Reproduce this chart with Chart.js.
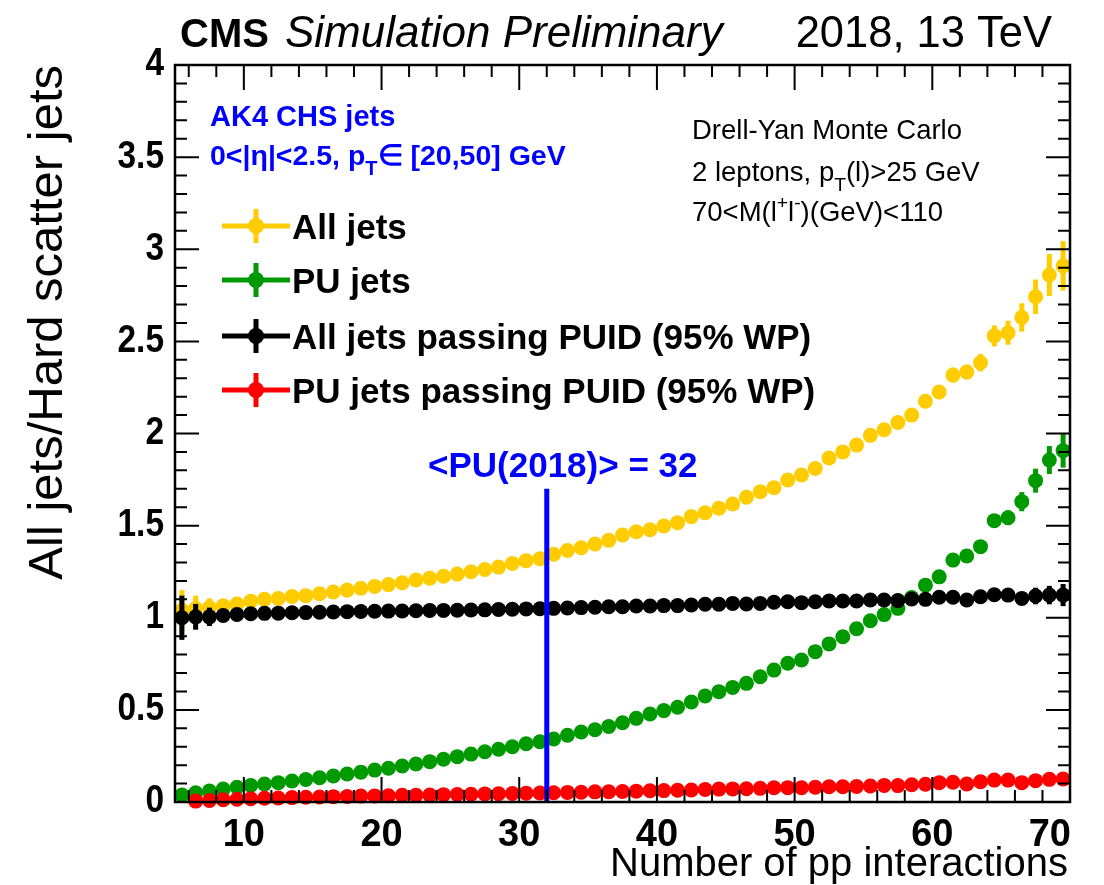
<!DOCTYPE html>
<html>
<head>
<meta charset="utf-8">
<script src="https://cdn.jsdelivr.net/npm/chart.js@4.4.1/dist/chart.umd.min.js"></script>
<style>
  html, body { margin: 0; padding: 0; background: #fff; }
  #wrap { width: 1104px; height: 885px; }
</style>
</head>
<body>
<div id="wrap"><canvas id="chart" width="1104" height="885"></canvas></div>
<script>
// bin centres of the pile-up distribution (number of pp interactions)
const nPU = [
  5.5, 6.5, 7.5, 8.5, 9.5, 10.5, 11.5, 12.5, 13.5, 14.5,
  15.5, 16.5, 17.5, 18.5, 19.5, 20.5, 21.5, 22.5, 23.5, 24.5,
  25.5, 26.5, 27.5, 28.5, 29.5, 30.5, 31.5, 32.5, 33.5, 34.5,
  35.5, 36.5, 37.5, 38.5, 39.5, 40.5, 41.5, 42.5, 43.5, 44.5,
  45.5, 46.5, 47.5, 48.5, 49.5, 50.5, 51.5, 52.5, 53.5, 54.5,
  55.5, 56.5, 57.5, 58.5, 59.5, 60.5, 61.5, 62.5, 63.5, 64.5,
  65.5, 66.5, 67.5, 68.5, 69.5
];

// ratios to hard scatter jets
const allJets = [
  1.04, 1.05, 1.055, 1.065, 1.075, 1.09, 1.10, 1.105, 1.115, 1.12,
  1.13, 1.14, 1.15, 1.16, 1.17, 1.18, 1.19, 1.205, 1.215, 1.225,
  1.237, 1.25, 1.262, 1.275, 1.295, 1.31, 1.32, 1.345, 1.365, 1.38,
  1.40, 1.42, 1.449, 1.467, 1.478, 1.498, 1.516, 1.549, 1.57, 1.594,
  1.617, 1.654, 1.684, 1.706, 1.748, 1.775, 1.81, 1.867, 1.90, 1.937,
  1.99, 2.02, 2.06, 2.10, 2.175, 2.225, 2.317, 2.334, 2.384, 2.53,
  2.547, 2.63, 2.742, 2.86, 2.91
];
const allJetsErr = [
  0.11, 0.07, 0.05, 0.035, 0.03, 0.025, 0.02, 0.02, 0.02, 0.02,
  0.02, 0.02, 0.02, 0.02, 0.02, 0.02, 0.02, 0.02, 0.02, 0.02,
  0.02, 0.02, 0.02, 0.02, 0.02, 0.02, 0.02, 0.02, 0.02, 0.02,
  0.02, 0.02, 0.02, 0.02, 0.02, 0.02, 0.02, 0.02, 0.02, 0.02,
  0.02, 0.02, 0.02, 0.02, 0.02, 0.025, 0.025, 0.025, 0.025, 0.025,
  0.025, 0.03, 0.03, 0.03, 0.035, 0.035, 0.04, 0.04, 0.047, 0.057,
  0.065, 0.077, 0.094, 0.114, 0.134
];

const puJets = [
  0.038, 0.05, 0.06, 0.07, 0.08, 0.09, 0.098, 0.105, 0.114, 0.122,
  0.132, 0.141, 0.152, 0.162, 0.173, 0.183, 0.195, 0.206, 0.219, 0.232,
  0.246, 0.26, 0.273, 0.286, 0.30, 0.316, 0.327, 0.342, 0.362, 0.38,
  0.392, 0.41, 0.43, 0.454, 0.478, 0.496, 0.514, 0.543, 0.575, 0.599,
  0.622, 0.644, 0.68, 0.716, 0.753, 0.771, 0.816, 0.858, 0.897, 0.94,
  0.984, 1.017, 1.051, 1.11, 1.177, 1.222, 1.313, 1.335, 1.386, 1.527,
  1.543, 1.63, 1.744, 1.856, 1.907
];
const puJetsErr = [
  0.02, 0.015, 0.01, 0.01, 0.01, 0.01, 0.01, 0.01, 0.01, 0.01,
  0.01, 0.01, 0.01, 0.01, 0.01, 0.01, 0.01, 0.01, 0.01, 0.01,
  0.01, 0.01, 0.01, 0.01, 0.01, 0.01, 0.01, 0.01, 0.01, 0.01,
  0.01, 0.01, 0.01, 0.01, 0.01, 0.01, 0.01, 0.01, 0.01, 0.01,
  0.015, 0.015, 0.015, 0.015, 0.015, 0.02, 0.02, 0.02, 0.02, 0.02,
  0.02, 0.02, 0.025, 0.025, 0.025, 0.03, 0.03, 0.03, 0.032, 0.035,
  0.04, 0.052, 0.065, 0.076, 0.092
];

const allJetsPuid = [
  1.0, 1.005, 1.005, 1.012, 1.018, 1.022, 1.024, 1.025, 1.027, 1.028,
  1.03, 1.031, 1.033, 1.034, 1.035, 1.036, 1.037, 1.038, 1.039, 1.04,
  1.041, 1.042, 1.043, 1.045, 1.046, 1.048, 1.049, 1.051, 1.053, 1.055,
  1.057, 1.06, 1.06, 1.064, 1.064, 1.066, 1.066, 1.069, 1.073, 1.073,
  1.078, 1.075, 1.078, 1.084, 1.087, 1.082, 1.087, 1.091, 1.091, 1.091,
  1.096, 1.096, 1.093, 1.102, 1.10, 1.111, 1.111, 1.096, 1.114, 1.125,
  1.123, 1.105, 1.118, 1.123, 1.123
];
const allJetsPuidErr = [
  0.12, 0.07, 0.05, 0.03, 0.025, 0.02, 0.015, 0.015, 0.015, 0.015,
  0.015, 0.015, 0.015, 0.015, 0.015, 0.015, 0.015, 0.015, 0.015, 0.015,
  0.015, 0.015, 0.015, 0.015, 0.015, 0.015, 0.015, 0.015, 0.015, 0.015,
  0.015, 0.015, 0.015, 0.015, 0.015, 0.015, 0.015, 0.015, 0.015, 0.015,
  0.015, 0.015, 0.015, 0.015, 0.015, 0.015, 0.02, 0.02, 0.02, 0.02,
  0.02, 0.02, 0.02, 0.02, 0.02, 0.025, 0.025, 0.025, 0.025, 0.03,
  0.03, 0.035, 0.045, 0.05, 0.06
];

const puJetsPuid = [
  null, 0.005, 0.008, 0.012, 0.015, 0.018, 0.02, 0.022, 0.024, 0.026,
  0.027, 0.029, 0.03, 0.032, 0.033, 0.034, 0.036, 0.037, 0.038, 0.04,
  0.041, 0.042, 0.044, 0.045, 0.046, 0.048, 0.049, 0.05, 0.052, 0.053,
  0.055, 0.056, 0.057, 0.059, 0.061, 0.062, 0.064, 0.065, 0.068, 0.07,
  0.071, 0.072, 0.074, 0.077, 0.078, 0.077, 0.08, 0.083, 0.083, 0.084,
  0.087, 0.09, 0.089, 0.094, 0.096, 0.105, 0.107, 0.098, 0.11, 0.119,
  0.119, 0.105, 0.116, 0.123, 0.125
];
const puJetsPuidErr = [
  0, 0.01, 0.008, 0.006, 0.005, 0.005, 0.005, 0.005, 0.005, 0.005,
  0.005, 0.005, 0.005, 0.005, 0.005, 0.005, 0.005, 0.005, 0.005, 0.005,
  0.005, 0.005, 0.005, 0.005, 0.005, 0.005, 0.005, 0.005, 0.005, 0.005,
  0.005, 0.005, 0.005, 0.005, 0.005, 0.005, 0.005, 0.005, 0.005, 0.005,
  0.005, 0.005, 0.005, 0.005, 0.005, 0.005, 0.005, 0.005, 0.005, 0.005,
  0.006, 0.006, 0.006, 0.006, 0.007, 0.007, 0.008, 0.008, 0.009, 0.01,
  0.011, 0.012, 0.014, 0.016, 0.018
];

const xTicks = [10, 20, 30, 40, 50, 60, 70];
const yTicks = [0, 0.5, 1, 1.5, 2, 2.5, 3, 3.5, 4];
const meanPU = 32;
const meanPUTop = 1.7;

const FONT = '"Liberation Sans", Arial, Helvetica, sans-serif';
const BLUE = "#0000ff";

const series = [
  { label: "All jets", y: allJets, err: allJetsErr, color: "#ffcc00", order: 3 },
  { label: "PU jets", y: puJets, err: puJetsErr, color: "#009900", order: 2 },
  { label: "All jets passing PUID (95% WP)", y: allJetsPuid, err: allJetsPuidErr, color: "#000000", order: 1 },
  { label: "PU jets passing PUID (95% WP)", y: puJetsPuid, err: puJetsPuidErr, color: "#ff0000", order: 0 },
];

// draw a line of text made of runs, some of them shifted as sub/superscripts
function drawRuns(ctx, x, y, runs, size, weight, color) {
  ctx.fillStyle = color;
  ctx.textAlign = "left";
  ctx.textBaseline = "alphabetic";
  let cx = x;
  runs.forEach((r) => {
    const s = size * (r.scale || 1);
    ctx.font = `${weight} ${s}px ${FONT}`;
    ctx.fillText(r.t, cx, y + (r.dy || 0) * size);
    cx += ctx.measureText(r.t).width;
  });
}

// vertical error bars, drawn just before each dataset's markers
const errorBars = {
  id: "errorBars",
  beforeDatasetDraw(chart, args) {
    const s = series[args.index];
    const yScale = chart.scales.y;
    const ctx = chart.ctx;
    ctx.save();
    ctx.strokeStyle = s.color;
    ctx.lineWidth = 5;
    args.meta.data.forEach((pt, i) => {
      const v = s.y[i];
      if (v === null || !s.err[i]) return;
      ctx.beginPath();
      ctx.moveTo(pt.x, yScale.getPixelForValue(v - s.err[i]));
      ctx.lineTo(pt.x, yScale.getPixelForValue(v + s.err[i]));
      ctx.stroke();
    });
    ctx.restore();
  },
};

// frame, ticks, mean pile-up line, legend and all labels
const decorations = {
  id: "decorations",
  afterDatasetsDraw(chart) {
    const { ctx, scales } = chart;
    const x = scales.x, y = scales.y;

    // <PU> line
    ctx.save();
    ctx.strokeStyle = BLUE;
    ctx.lineWidth = 5;
    ctx.beginPath();
    ctx.moveTo(x.getPixelForValue(meanPU), y.getPixelForValue(0));
    ctx.lineTo(x.getPixelForValue(meanPU), y.getPixelForValue(meanPUTop));
    ctx.stroke();
    ctx.restore();
  },
  afterDraw(chart) {
    const { ctx, chartArea: a, scales } = chart;
    const x = scales.x, y = scales.y;
    ctx.save();

    // frame
    ctx.strokeStyle = "#000";
    ctx.lineWidth = 2.5;
    ctx.strokeRect(a.left, a.top, a.right - a.left, a.bottom - a.top);

    // ticks on all four sides
    ctx.lineWidth = 2;
    ctx.beginPath();
    for (let v = 6; v <= 70; v += 2) {
      const px = x.getPixelForValue(v);
      const len = v % 10 === 0 ? 25 : 12;
      ctx.moveTo(px, a.bottom); ctx.lineTo(px, a.bottom - len);
      ctx.moveTo(px, a.top); ctx.lineTo(px, a.top + len);
    }
    for (let k = 0; k <= 40; k++) {
      const py = y.getPixelForValue(k / 10);
      const len = k % 5 === 0 ? 24 : 12;
      ctx.moveTo(a.left, py); ctx.lineTo(a.left + len, py);
      ctx.moveTo(a.right, py); ctx.lineTo(a.right - len, py);
    }
    ctx.stroke();

    // tick labels
    ctx.fillStyle = "#000";
    ctx.font = `bold 38px ${FONT}`;
    ctx.textBaseline = "alphabetic";
    xTicks.forEach((v, i) => {
      const last = i === xTicks.length - 1;
      ctx.textAlign = last ? "right" : "center";
      ctx.fillText(String(v), x.getPixelForValue(v) + (last ? 1 : 0), a.bottom + 44);
    });
    ctx.textAlign = "right";
    ctx.textBaseline = "middle";
    yTicks.forEach((v) => {
      ctx.save();
      ctx.translate(164, y.getPixelForValue(v));
      ctx.scale(0.88, 1);
      ctx.fillText(String(v), 0, 0);
      ctx.restore();
    });

    // header
    ctx.textBaseline = "alphabetic";
    ctx.textAlign = "left";
    ctx.font = `bold 40px ${FONT}`;
    ctx.fillText("CMS", 180, 47);
    ctx.font = `italic 44px ${FONT}`;
    ctx.fillText("Simulation Preliminary", 285, 47);
    ctx.textAlign = "right";
    ctx.font = `43.5px ${FONT}`;
    ctx.fillText("2018, 13 TeV", 1052, 47);

    // axis titles
    ctx.font = `40px ${FONT}`;
    ctx.fillText("Number of pp interactions", 1068, 876);
    ctx.save();
    ctx.translate(62, a.top);
    ctx.rotate(-Math.PI / 2);
    ctx.font = `49px ${FONT}`;
    ctx.textAlign = "right";
    ctx.fillText("All jets/Hard scatter jets", 0, 0);
    ctx.restore();

    // selection text
    drawRuns(ctx, 210, 126, [{ t: "AK4 CHS jets" }], 29, "bold", BLUE);
    drawRuns(ctx, 210, 165, [
      { t: "0<|η|<2.5, p" },
      { t: "T", scale: 0.7, dy: 0.35 },
      { t: "∈ [20,50] GeV" },
    ], 28.5, "bold", BLUE);

    drawRuns(ctx, 692, 139, [{ t: "Drell-Yan Monte Carlo" }], 27.5, "normal", "#000");
    drawRuns(ctx, 692, 181, [
      { t: "2 leptons, p" },
      { t: "T", scale: 0.7, dy: 0.35 },
      { t: "(l)>25 GeV" },
    ], 27.5, "normal", "#000");
    drawRuns(ctx, 692, 221, [
      { t: "70<M(l" },
      { t: "+", scale: 0.7, dy: -0.45 },
      { t: "l" },
      { t: "-", scale: 0.7, dy: -0.45 },
      { t: ")(GeV)<110" },
    ], 27.5, "normal", "#000");

    drawRuns(ctx, 428, 477, [{ t: "<PU(2018)> = 32" }], 35, "bold", BLUE);

    // legend
    const legendY = [226, 280, 336, 390];
    series.forEach((s, i) => {
      const ly = legendY[i];
      ctx.strokeStyle = s.color;
      ctx.fillStyle = s.color;
      ctx.lineWidth = 5;
      ctx.beginPath();
      ctx.moveTo(222, ly); ctx.lineTo(290, ly);
      ctx.moveTo(256, ly - 17); ctx.lineTo(256, ly + 17);
      ctx.stroke();
      ctx.beginPath();
      ctx.arc(256, ly, 8, 0, Math.PI * 2);
      ctx.fill();
      drawRuns(ctx, 292, ly + 12.5, [{ t: s.label }], 35, "bold", "#000");
    });

    ctx.restore();
  },
};

new Chart(document.getElementById("chart").getContext("2d"), {
  type: "scatter",
  data: {
    datasets: series.map((s) => ({
      label: s.label,
      data: nPU.map((v, i) => ({ x: v, y: s.y[i] })),
      backgroundColor: s.color,
      borderColor: s.color,
      borderWidth: 0,
      pointRadius: 7.5,
      pointHoverRadius: 7.5,
      showLine: false,
      clip: false,
      order: s.order,
    })),
  },
  options: {
    responsive: false,
    devicePixelRatio: 1,
    animation: false,
    events: [],
    layout: { padding: { top: 65, right: 34, left: 0, bottom: 0 } },
    plugins: { legend: { display: false }, tooltip: { enabled: false } },
    scales: {
      x: {
        type: "linear",
        min: 5,
        max: 70,
        grid: { display: false, drawTicks: false },
        border: { display: false },
        afterFit: (s) => { s.height = 83; },
        ticks: { display: false },
      },
      y: {
        min: 0,
        max: 4,
        grid: { display: false, drawTicks: false },
        border: { display: false },
        afterFit: (s) => { s.width = 175; },
        ticks: { display: false },
      },
    },
  },
  plugins: [errorBars, decorations],
});
</script>
</body>
</html>
